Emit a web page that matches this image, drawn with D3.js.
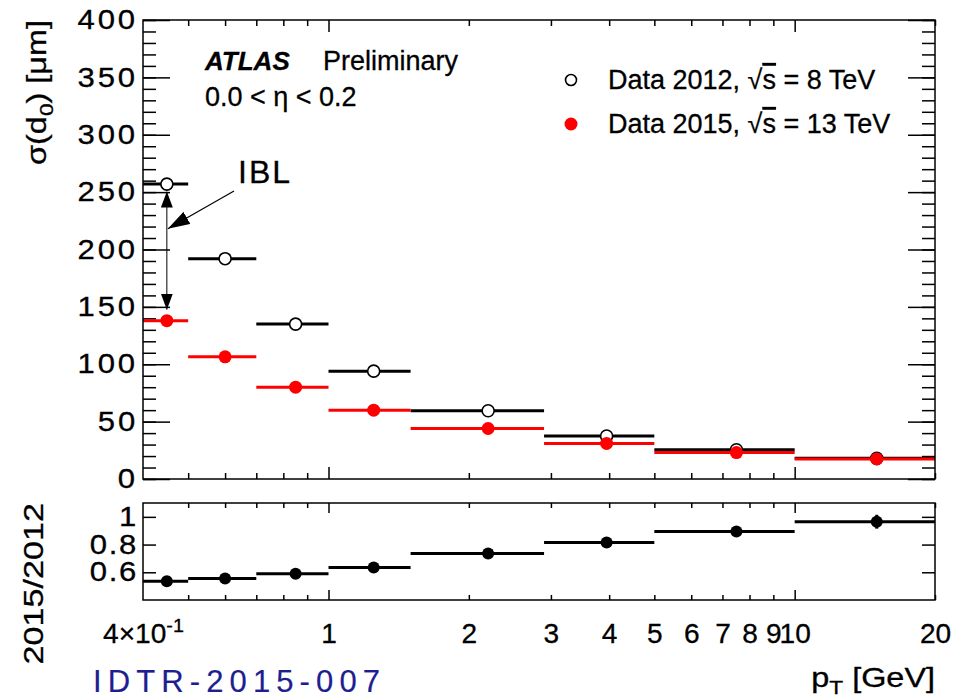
<!DOCTYPE html>
<html>
<head>
<meta charset="utf-8">
<script src="https://cdn.jsdelivr.net/npm/d3@7"></script>
<style>
body { margin: 0; background: #fff; }
text { font-family: "Liberation Sans", Arial, Helvetica, sans-serif; fill: #000; stroke: #000; stroke-width: 0.3; }
</style>
</head>
<body>
<div id="chart"></div>
<script>
// bins in pT [GeV]
var binLow = [0.4, 0.5, 0.7, 1.0, 1.5, 2.9, 5, 10];
var binHigh = [0.5, 0.7, 1.0, 1.5, 2.9, 5, 10, 20];
var binCenter = [0.45, 0.6, 0.85, 1.25, 2.2, 3.95, 7.5, 15];

// sigma(d0) in um
var sigma2012 = [257, 192, 135, 94, 59.5, 37.5, 25.5, 18];
var sigma2015 = [138, 106.5, 80, 60, 44, 31, 23, 17.5];

// 2015/2012 ratio
var ratio = [0.535, 0.555, 0.59, 0.635, 0.735, 0.815, 0.895, 0.965];
var ratioErr = [0.005, 0.005, 0.005, 0.005, 0.005, 0.01, 0.01, 0.05];

// ticks
var xLabelTicks = [0.4, 1, 2, 3, 4, 5, 6, 7, 8, 9, 10, 20];
var xMajorTicks = [1, 10];
var xMinorTicks = [0.5, 0.6, 0.7, 0.8, 0.9, 2, 3, 4, 5, 6, 7, 8, 9, 20];
var yMainTicks = [0, 50, 100, 150, 200, 250, 300, 350, 400];
var yRatioTicks = [0.6, 0.8, 1];

var W = 953, H = 699;
var left = 143, right = 935;
var mainTop = 20, mainBottom = 479;
var ratTop = 503, ratBottom = 600;

var x = d3.scaleLog().domain([0.4, 20]).range([left, right]);
var y = d3.scaleLinear().domain([0, 400]).range([mainBottom, mainTop]);
var yr = d3.scaleLinear().domain([0.4, 1.1]).range([ratBottom, ratTop]);

var bins = binCenter.map(function(c, i) {
  return {lo: binLow[i], hi: binHigh[i], c: c, s12: sigma2012[i], s15: sigma2015[i], r: ratio[i], re: ratioErr[i]};
});

var svg = d3.select("#chart").append("svg")
    .attr("width", W)
    .attr("height", H);

svg.append("rect").attr("width", W).attr("height", H).attr("fill", "#fff");

var defs = svg.append("defs");
defs.append("marker")
    .attr("id", "headSmall")
    .attr("viewBox", "0 0 16 12")
    .attr("refX", 16).attr("refY", 6)
    .attr("markerUnits", "userSpaceOnUse")
    .attr("markerWidth", 16).attr("markerHeight", 12)
    .attr("orient", "auto-start-reverse")
  .append("path").attr("d", "M0,0 L16,6 L0,12 Z").attr("fill", "#000");
defs.append("marker")
    .attr("id", "headBig")
    .attr("viewBox", "0 0 22 14")
    .attr("refX", 22).attr("refY", 7)
    .attr("markerUnits", "userSpaceOnUse")
    .attr("markerWidth", 22).attr("markerHeight", 14)
    .attr("orient", "auto")
  .append("path").attr("d", "M0,0 L22,7 L0,14 Z").attr("fill", "#000");

function styleAxis(g) {
  g.select(".domain").remove();
  g.selectAll(".tick line").attr("stroke", "#000").attr("stroke-width", 1.5);
}

function tickAxis(axis, tx, ty) {
  svg.append("g")
    .attr("transform", "translate(" + tx + "," + ty + ")")
    .call(axis)
    .call(styleAxis);
}

//x ticks, both panels, bottom and top, pointing inward
tickAxis(d3.axisBottom(x).tickValues(xMajorTicks).tickSize(-12).tickFormat(""), 0, mainBottom);
tickAxis(d3.axisBottom(x).tickValues(xMinorTicks).tickSize(-6).tickFormat(""), 0, mainBottom);
tickAxis(d3.axisTop(x).tickValues(xMajorTicks).tickSize(-12).tickFormat(""), 0, mainTop);
tickAxis(d3.axisTop(x).tickValues(xMinorTicks).tickSize(-6).tickFormat(""), 0, mainTop);
tickAxis(d3.axisBottom(x).tickValues(xMajorTicks).tickSize(-10).tickFormat(""), 0, ratBottom);
tickAxis(d3.axisBottom(x).tickValues(xMinorTicks).tickSize(-5).tickFormat(""), 0, ratBottom);
tickAxis(d3.axisTop(x).tickValues(xMajorTicks).tickSize(-10).tickFormat(""), 0, ratTop);
tickAxis(d3.axisTop(x).tickValues(xMinorTicks).tickSize(-5).tickFormat(""), 0, ratTop);

//y ticks main panel
tickAxis(d3.axisLeft(y).ticks(40).tickSize(-13).tickFormat(""), left, 0);
tickAxis(d3.axisRight(y).ticks(40).tickSize(-13).tickFormat(""), right, 0);
tickAxis(d3.axisRight(y).tickValues(yMainTicks).tickSize(-27).tickFormat(""), right, 0);

var yLab = svg.append("g")
    .attr("transform", "translate(" + left + ",0)")
    .call(d3.axisLeft(y).tickValues(yMainTicks).tickSize(-27).tickPadding(5).tickFormat(d3.format("d")))
    .call(styleAxis);
yLab.selectAll("text")
    .attr("font-size", 27)
    .attr("letter-spacing", 2.5)
    .attr("x", -5 / 1.15)
    .attr("transform", "scale(1.15,1)");

//y ticks ratio panel
tickAxis(d3.axisRight(yr).tickValues(yRatioTicks).tickSize(-13).tickFormat(""), right, 0);
var yrLab = svg.append("g")
    .attr("transform", "translate(" + left + ",0)")
    .call(d3.axisLeft(yr).tickValues(yRatioTicks).tickSize(-13).tickPadding(5)
      .tickFormat(function(d) { return d === 1 ? "1" : d3.format(".1f")(d); }))
    .call(styleAxis);
yrLab.selectAll("text")
    .attr("font-size", 27)
    .attr("letter-spacing", 1.5)
    .attr("x", -5 / 1.15)
    .attr("transform", "scale(1.15,1)");

//x labels under ratio panel
var xLab = svg.append("g")
    .attr("transform", "translate(0," + ratBottom + ")")
    .call(d3.axisBottom(x).tickValues(xLabelTicks).tickSize(0))
    .call(styleAxis);
xLab.selectAll("text")
    .attr("font-size", 27)
    .attr("y", 43)
    .attr("dy", 0)
    .attr("transform", "scale(1.04,1)")
    .each(function(d) {
      var t = d3.select(this).text("");
      if (d === 0.4) {
        t.append("tspan").text("4\u00d710");
        t.append("tspan").attr("dy", -11).attr("font-size", 19).text("-1");
      } else {
        t.text(d3.format("d")(d));
      }
    });

//main panel data: 2012 then 2015 on top
var main = svg.append("g");
main.selectAll("line.b12").data(bins).enter().append("line")
    .attr("class", "b12")
    .attr("x1", function(d) { return x(d.lo); })
    .attr("x2", function(d) { return x(d.hi); })
    .attr("y1", function(d) { return y(d.s12); })
    .attr("y2", function(d) { return y(d.s12); })
    .attr("stroke", "#000").attr("stroke-width", 3);
main.selectAll("circle.m12").data(bins).enter().append("circle")
    .attr("class", "m12")
    .attr("cx", function(d) { return x(d.c); })
    .attr("cy", function(d) { return y(d.s12); })
    .attr("r", 6)
    .attr("fill", "#fff").attr("stroke", "#000").attr("stroke-width", 1.6);
main.selectAll("line.b15").data(bins).enter().append("line")
    .attr("class", "b15")
    .attr("x1", function(d) { return x(d.lo); })
    .attr("x2", function(d) { return x(d.hi); })
    .attr("y1", function(d) { return y(d.s15); })
    .attr("y2", function(d) { return y(d.s15); })
    .attr("stroke", "#ff0000").attr("stroke-width", 3);
main.selectAll("circle.m15").data(bins).enter().append("circle")
    .attr("class", "m15")
    .attr("cx", function(d) { return x(d.c); })
    .attr("cy", function(d) { return y(d.s15); })
    .attr("r", 6.5)
    .attr("fill", "#ff0000");

//ratio panel data
var rat = svg.append("g");
rat.selectAll("line.rb").data(bins).enter().append("line")
    .attr("x1", function(d) { return x(d.lo); })
    .attr("x2", function(d) { return x(d.hi); })
    .attr("y1", function(d) { return yr(d.r); })
    .attr("y2", function(d) { return yr(d.r); })
    .attr("stroke", "#000").attr("stroke-width", 3);
rat.selectAll("line.re").data(bins).enter().append("line")
    .attr("x1", function(d) { return x(d.c); })
    .attr("x2", function(d) { return x(d.c); })
    .attr("y1", function(d) { return yr(d.r - d.re); })
    .attr("y2", function(d) { return yr(d.r + d.re); })
    .attr("stroke", "#000").attr("stroke-width", 3);
rat.selectAll("circle").data(bins).enter().append("circle")
    .attr("cx", function(d) { return x(d.c); })
    .attr("cy", function(d) { return yr(d.r); })
    .attr("r", 6)
    .attr("fill", "#000");

//frames
svg.append("rect")
    .attr("x", left).attr("y", mainTop)
    .attr("width", right - left).attr("height", mainBottom - mainTop)
    .attr("fill", "none").attr("stroke", "#000").attr("stroke-width", 1.5);
svg.append("rect")
    .attr("x", left).attr("y", ratTop)
    .attr("width", right - left).attr("height", ratBottom - ratTop)
    .attr("fill", "none").attr("stroke", "#000").attr("stroke-width", 1.5);

//IBL annotation
var ax = x(binCenter[0]);
svg.append("line")
    .attr("x1", ax).attr("x2", ax)
    .attr("y1", y(sigma2012[0]) + 7.5)
    .attr("y2", y(sigma2015[0]) - 11)
    .attr("stroke", "#000").attr("stroke-width", 1)
    .attr("marker-start", "url(#headSmall)")
    .attr("marker-end", "url(#headSmall)");
svg.append("line")
    .attr("x1", 234).attr("y1", 191)
    .attr("x2", ax + 1).attr("y2", y(218))
    .attr("stroke", "#000").attr("stroke-width", 1.2)
    .attr("marker-end", "url(#headBig)");
svg.append("text")
    .attr("x", 238).attr("y", 183)
    .attr("font-size", 32).attr("letter-spacing", 2)
    .text("IBL");

//labels
svg.append("text")
    .attr("x", 205).attr("y", 70)
    .attr("font-size", 26).attr("font-weight", "bold").attr("font-style", "italic")
    .text("ATLAS");
svg.append("text")
    .attr("x", 323).attr("y", 70)
    .attr("font-size", 27)
    .text("Preliminary");
svg.append("text")
    .attr("x", 205).attr("y", 106)
    .attr("font-size", 27)
    .text("0.0 < \u03b7 < 0.2");

//legend
var legend = [
  {label: "Data 2012, ", energy: " = 8 TeV", fill: "#fff", stroke: "#000", r: 5.5},
  {label: "Data 2015, ", energy: " = 13 TeV", fill: "#ff0000", stroke: "none", r: 6.5}
];
var lg = svg.append("g").selectAll("g").data(legend).enter().append("g")
    .attr("transform", function(d, i) { return "translate(571," + (80 + i * 44) + ")"; });
lg.append("circle")
    .attr("r", function(d) { return d.r; })
    .attr("fill", function(d) { return d.fill; })
    .attr("stroke", function(d) { return d.stroke; })
    .attr("stroke-width", 1.6);
var lt = lg.append("text")
    .attr("x", 37).attr("y", 9)
    .attr("font-size", 27);
lt.append("tspan").text(function(d) { return d.label; });
lt.append("tspan").text("\u221a");
lt.append("tspan").style("text-decoration", "overline").text("s");
lt.append("tspan").text(function(d) { return d.energy; });

//axis titles
var yt = svg.append("text")
    .attr("transform", "translate(46,20) rotate(-90) scale(1.2,1)")
    .attr("text-anchor", "end")
    .attr("font-size", 27);
yt.append("tspan").text("\u03c3(d");
yt.append("tspan").attr("font-size", 19).attr("dy", 7).text("0");
yt.append("tspan").attr("dy", -7).text(") [\u03bcm]");

svg.append("text")
    .attr("transform", "translate(43," + ratTop + ") rotate(-90) scale(1.22,1)")
    .attr("text-anchor", "end")
    .attr("font-size", 28)
    .text("2015/2012");

var xt = svg.append("text")
    .attr("transform", "translate(" + right + ",687) scale(1.2,1)")
    .attr("text-anchor", "end")
    .attr("font-size", 27);
xt.append("tspan").text("p");
xt.append("tspan").attr("font-size", 19).attr("dy", 7).text("T");
xt.append("tspan").attr("dy", -7).text(" [GeV]");

svg.append("text")
    .attr("x", 93).attr("y", 692)
    .attr("font-family", "'Courier New', Courier, 'Liberation Mono', monospace")
    .attr("font-size", 31)
    .attr("textLength", 287)
    .attr("lengthAdjust", "spacing")
    .style("fill", "#1e1e90")
    .style("stroke", "#1e1e90")
    .style("stroke-width", 0.2)
    .text("IDTR-2015-007");
</script>
</body>
</html>
